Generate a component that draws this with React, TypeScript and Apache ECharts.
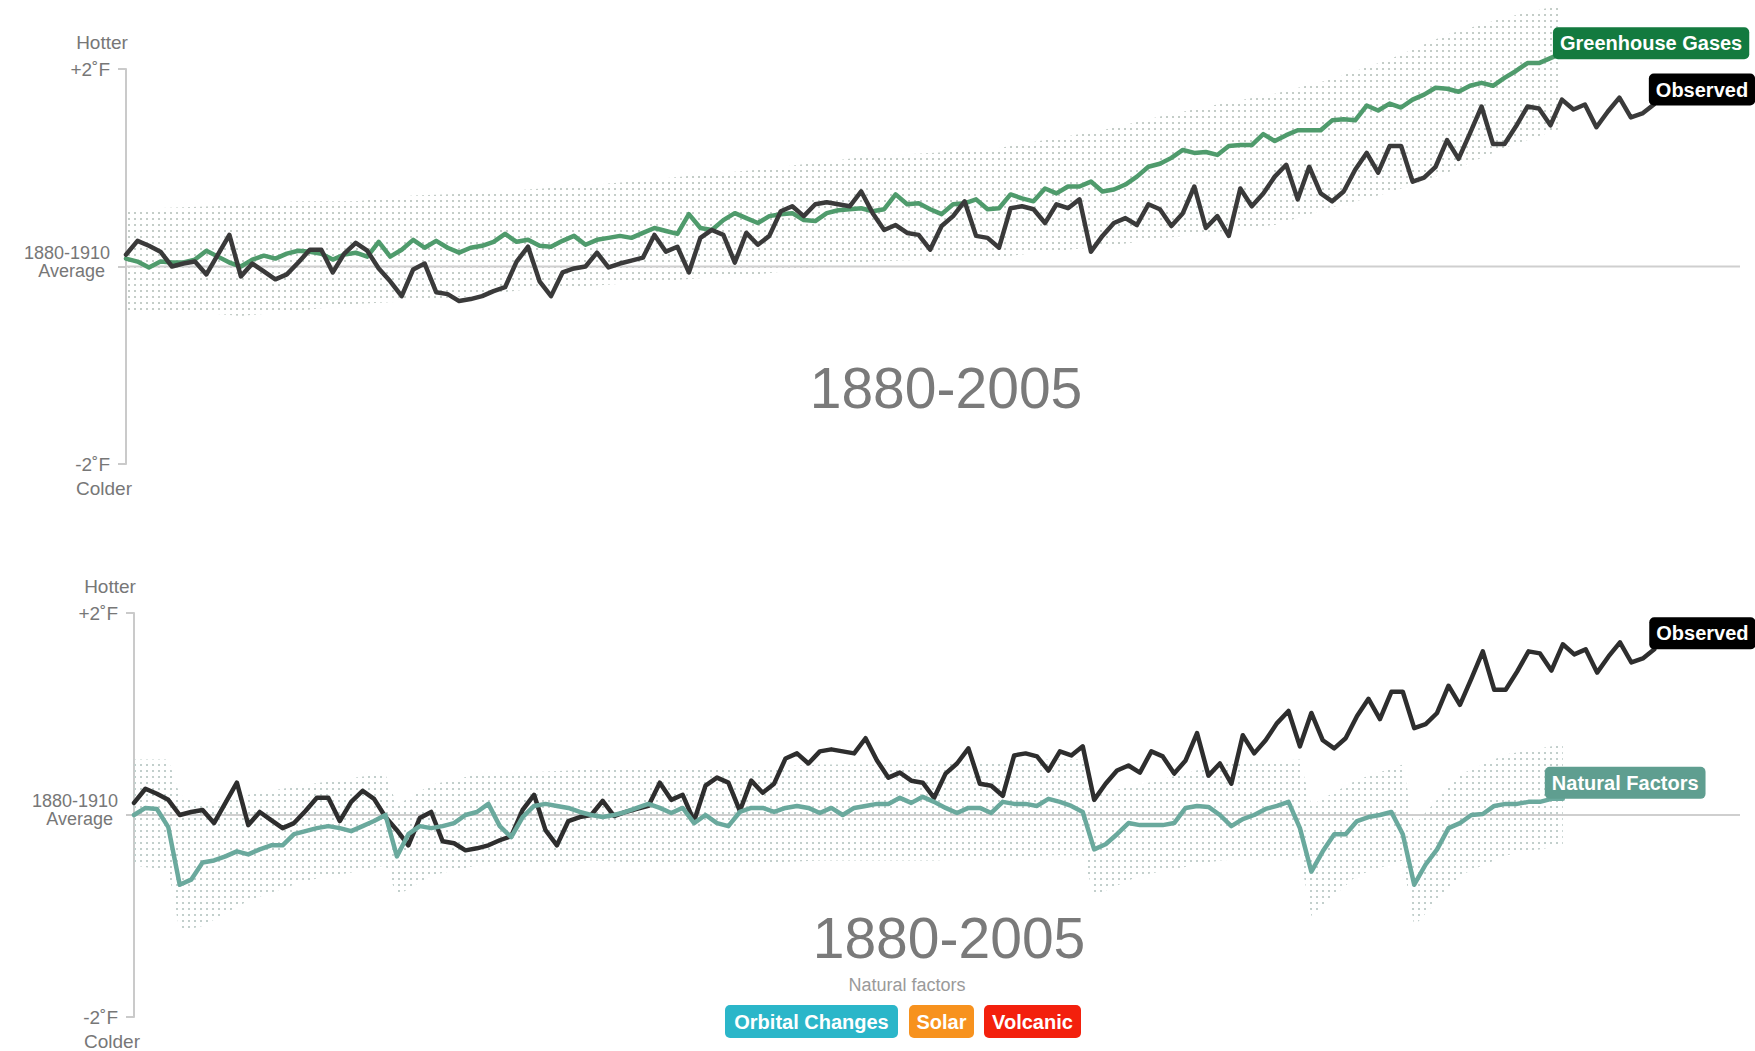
import React, { useEffect, useRef } from "react";
import * as echarts from "echarts";

const START_YEAR = 1880;
const X_MIN = 1880;
const X_MAX = 2020.5;

// Observed temperature, deg F relative to the 1880-1910 average, 1880..2013
const observed = [
  0.12, 0.26, 0.21, 0.15, 0.0, 0.03, 0.05, -0.08, 0.12, 0.32,
  -0.1, 0.03, -0.05, -0.13, -0.08, 0.04, 0.17, 0.17, -0.06, 0.13,
  0.24, 0.16, -0.02, -0.15, -0.3, -0.03, 0.03, -0.26, -0.28, -0.35,
  -0.33, -0.3, -0.25, -0.21, 0.05, 0.2, -0.15, -0.3, -0.06, -0.02,
  0.0, 0.14, -0.01, 0.03, 0.06, 0.09, 0.32, 0.15, 0.2, -0.06,
  0.29, 0.37, 0.32, 0.04, 0.34, 0.22, 0.31, 0.56, 0.61, 0.51,
  0.63, 0.65, 0.63, 0.61, 0.76, 0.54, 0.37, 0.42, 0.34, 0.32,
  0.17, 0.41, 0.51, 0.66, 0.31, 0.29, 0.19, 0.59, 0.61, 0.58,
  0.44, 0.63, 0.59, 0.68, 0.15, 0.31, 0.44, 0.49, 0.42, 0.63,
  0.58, 0.41, 0.54, 0.81, 0.39, 0.51, 0.31, 0.79, 0.61, 0.74,
  0.91, 1.03, 0.68, 1.01, 0.74, 0.66, 0.76, 0.98, 1.15, 0.95,
  1.22, 1.22, 0.86, 0.9, 1.01, 1.28, 1.09, 1.35, 1.62, 1.24,
  1.24, 1.42, 1.62, 1.6, 1.43, 1.69, 1.59, 1.64, 1.41, 1.57,
  1.71, 1.51, 1.55, 1.64,
];

// Greenhouse-gas model, 1880..2005
const greenhouse = [
  0.08, 0.05, -0.01, 0.05, 0.04, 0.04, 0.07, 0.16, 0.1, 0.04,
  0.0, 0.07, 0.11, 0.08, 0.13, 0.16, 0.15, 0.13, 0.07, 0.12,
  0.14, 0.1, 0.25, 0.1, 0.17, 0.27, 0.19, 0.26, 0.19, 0.14,
  0.19, 0.21, 0.25, 0.33, 0.25, 0.27, 0.21, 0.2, 0.26, 0.31,
  0.22, 0.27, 0.29, 0.31, 0.29, 0.34, 0.39, 0.36, 0.33, 0.53,
  0.39, 0.37, 0.47, 0.54, 0.49, 0.44, 0.51, 0.53, 0.54, 0.47,
  0.46, 0.54, 0.57, 0.58, 0.59, 0.56, 0.58, 0.73, 0.63, 0.64,
  0.58, 0.53, 0.63, 0.64, 0.68, 0.58, 0.59, 0.73, 0.69, 0.66,
  0.79, 0.74, 0.81, 0.81, 0.86, 0.76, 0.78, 0.83, 0.91, 1.01,
  1.04, 1.1, 1.18, 1.15, 1.16, 1.13, 1.22, 1.23, 1.23, 1.34,
  1.27, 1.33, 1.38, 1.38, 1.38, 1.48, 1.49, 1.48, 1.63, 1.58,
  1.65, 1.61, 1.69, 1.74, 1.81, 1.8, 1.77, 1.83, 1.86, 1.83,
  1.91, 1.98, 2.06, 2.06, 2.11, 2.16,
];

// Natural-factors model, 1880..2005
const natural = [
  0.0, 0.07, 0.06, -0.12, -0.69, -0.64, -0.47, -0.45, -0.41, -0.36,
  -0.39, -0.34, -0.3, -0.3, -0.19, -0.16, -0.13, -0.11, -0.13, -0.16,
  -0.11, -0.06, 0.0, -0.41, -0.19, -0.11, -0.13, -0.11, -0.08, 0.0,
  0.03, 0.11, -0.11, -0.22, -0.02, 0.09, 0.11, 0.09, 0.07, 0.03,
  0.0, -0.02, 0.0, 0.03, 0.07, 0.11, 0.07, 0.02, 0.07, -0.08,
  0.0, -0.08, -0.11, 0.03, 0.07, 0.07, 0.03, 0.07, 0.09, 0.07,
  0.02, 0.07, 0.0, 0.07, 0.09, 0.11, 0.11, 0.17, 0.12, 0.18,
  0.13, 0.07, 0.02, 0.07, 0.07, 0.02, 0.13, 0.11, 0.11, 0.09,
  0.16, 0.13, 0.09, 0.03, -0.34, -0.29, -0.19, -0.08, -0.1, -0.1,
  -0.1, -0.08, 0.07, 0.09, 0.08, 0.0, -0.11, -0.04, 0.0, 0.06,
  0.09, 0.13, -0.13, -0.56, -0.36, -0.19, -0.19, -0.06, -0.02, 0.0,
  0.03, -0.19, -0.69, -0.49, -0.34, -0.13, -0.08, 0.0, 0.01, 0.09,
  0.11, 0.11, 0.13, 0.13, 0.16, 0.16,
];

// Model spread (dotted band), greenhouse gases
const ghgBandYears = [1880, 1885, 1890, 1895, 1900, 1905, 1910, 1915, 1920, 1925, 1930, 1935, 1940, 1945, 1950, 1955, 1960, 1965, 1970, 1975, 1980, 1985, 1990, 1995, 2000, 2005];
const ghgBandLow = [-0.45, -0.45, -0.5, -0.45, -0.38, -0.35, -0.3, -0.23, -0.2, -0.16, -0.12, -0.08, -0.01, 0.05, 0.07, 0.08, 0.15, 0.2, 0.28, 0.35, 0.42, 0.6, 0.75, 0.95, 1.2, 1.4];
const ghgBandHigh = [0.58, 0.6, 0.62, 0.66, 0.66, 0.72, 0.74, 0.78, 0.82, 0.87, 0.93, 0.98, 1.05, 1.12, 1.15, 1.18, 1.28, 1.38, 1.52, 1.64, 1.75, 1.9, 2.1, 2.35, 2.52, 2.65];

// Model spread (dotted band), natural factors
const natBandYears = [1880, 1883, 1884, 1886, 1890, 1895, 1900, 1902, 1903, 1906, 1910, 1920, 1930, 1940, 1950, 1960, 1963, 1964, 1968, 1975, 1982, 1983, 1987, 1991, 1992, 1996, 2000, 2005];
const natBandLow = [-0.5, -0.55, -1.15, -1.1, -0.85, -0.65, -0.55, -0.5, -0.8, -0.6, -0.5, -0.45, -0.5, -0.45, -0.45, -0.4, -0.4, -0.8, -0.6, -0.45, -0.4, -1.0, -0.6, -0.45, -1.1, -0.6, -0.4, -0.3];
const natBandHigh = [0.55, 0.55, 0.2, 0.1, 0.2, 0.3, 0.38, 0.4, 0.1, 0.3, 0.4, 0.45, 0.45, 0.5, 0.5, 0.55, 0.55, 0.2, 0.3, 0.5, 0.55, 0.1, 0.35, 0.5, -0.1, 0.4, 0.6, 0.7];

const Y_MIN = -2;
const Y_MAX = 2;
const tickLabels: Record<string, string> = {
  "2": "+2˚F",
  "0": "{a|1880-1910}\n{b|Average}\n{e| }",
  "-2": "-2˚F",
};
const periodTitle = "1880-2005";
const naturalCaption = "Natural factors";
const legendNames = ["Orbital Changes", "Solar", "Volcanic"];
const legendColors = ["#2bb6c9", "#f7921e", "#f3200d"];
const legendX = [725, 909, 984];
const legendW = [173, 65, 97];

const FONT = '"Liberation Sans", Arial, Helvetica, sans-serif';

function makeDots(color: string) {
  const c = document.createElement("canvas");
  c.width = 6;
  c.height = 6;
  const ctx = c.getContext("2d")!;
  ctx.fillStyle = color;
  ctx.fillRect(2, 2, 2, 2);
  return c;
}

function endLabel(text: string, bg: string, dx: number, dy: number) {
  return {
    show: true,
    formatter: text,
    color: "#fff",
    fontFamily: FONT,
    fontWeight: "bold",
    fontSize: 20,
    lineHeight: 24,
    padding: [4, 7, 4, 7],
    backgroundColor: bg,
    borderRadius: 5,
    distance: 0,
    offset: [dx, dy],
    align: "left",
    verticalAlign: "middle",
  };
}

function yAxesFor(gridIndex: number) {
  return [
    {
      type: "value",
      gridIndex,
      position: "left",
      min: Y_MIN,
      max: Y_MAX,
      interval: 2,
      name: "Hotter",
      nameLocation: "end",
      nameGap: 17,
      nameTextStyle: { color: "#777", fontSize: 19, fontFamily: FONT, padding: [0, 48, 0, 0] },
      axisLine: { show: true, lineStyle: { color: "#cacaca", width: 2 } },
      axisTick: { show: true, length: 8, lineStyle: { color: "#cacaca", width: 2 } },
      splitLine: { show: false },
      axisLabel: {
        margin: 16,
        color: "#777",
        fontSize: 19,
        fontFamily: FONT,
        lineHeight: 19,
        formatter: (v: number) => tickLabels[String(v)] ?? "",
        rich: {
          a: { color: "#777", fontSize: 18, fontFamily: FONT, lineHeight: 18 },
          b: { color: "#777", fontSize: 18, fontFamily: FONT, lineHeight: 18, padding: [0, 5, 0, 0] },
          e: { fontSize: 8, lineHeight: 10 },
        },
      },
    },
    {
      type: "value",
      gridIndex,
      position: "left",
      min: Y_MIN,
      max: Y_MAX,
      interval: 2,
      name: "Colder",
      nameLocation: "start",
      nameGap: 15,
      nameTextStyle: { color: "#777", fontSize: 19, fontFamily: FONT, padding: [0, 44, 0, 0] },
      axisLine: { show: false },
      axisTick: { show: false },
      axisLabel: { show: false },
      splitLine: { show: false },
    },
  ];
}

function bandSeries(gridIndex: number, years: number[], low: number[], high: number[], pattern: any) {
  return {
    type: "custom",
    xAxisIndex: gridIndex,
    yAxisIndex: gridIndex * 2,
    silent: true,
    z: 1,
    data: [[years[0], low[0]]],
    renderItem: (_params: any, api: any) => {
      const upper = years.map((y, i) => api.coord([y, high[i]]));
      const lower = years.map((y, i) => api.coord([y, low[i]])).reverse();
      return {
        type: "polygon",
        shape: { points: upper.concat(lower) },
        style: { fill: { image: pattern, repeat: "repeat" } },
      };
    },
  };
}

function zeroSeries(gridIndex: number) {
  return {
    type: "line",
    xAxisIndex: gridIndex,
    yAxisIndex: gridIndex * 2,
    data: [
      [X_MIN, 0],
      [X_MAX, 0],
    ],
    symbol: "none",
    silent: true,
    z: 2,
    lineStyle: { color: "#cfcfcf", width: 2 },
  };
}

function lineSeries(gridIndex: number, values: number[], color: string, label: any, z: number) {
  return {
    type: "line",
    xAxisIndex: gridIndex,
    yAxisIndex: gridIndex * 2,
    data: values.map((v, i) => [START_YEAR + i, v]),
    symbol: "none",
    clip: false,
    silent: true,
    z,
    lineStyle: { color, width: 4.5, join: "round", cap: "round" },
    endLabel: label,
    emphasis: { disabled: true },
  };
}

export default function App() {
  const ref = useRef<HTMLDivElement>(null);

  useEffect(() => {
    if (!ref.current) return;
    const chart = echarts.init(ref.current, undefined, { renderer: "svg" });
    const dotsTop = makeDots("#c4cdc8");
    const dotsBottom = makeDots("#c2cfcc");

    const legendGraphics: any[] = [];
    legendNames.forEach((name, i) => {
      legendGraphics.push({
        type: "rect",
        shape: { x: legendX[i], y: 1005, width: legendW[i], height: 33, r: 5 },
        style: { fill: legendColors[i] },
      });
      legendGraphics.push({
        type: "text",
        x: legendX[i] + legendW[i] / 2,
        y: 1022,
        style: {
          text: name,
          fill: "#fff",
          fontSize: 20,
          fontWeight: "bold",
          fontFamily: FONT,
          align: "center",
          verticalAlign: "middle",
        },
      });
    });

    chart.setOption({
      animation: false,
      backgroundColor: "#ffffff",
      grid: [
        { left: 126, right: 15, top: 69, height: 395 },
        { left: 134, right: 15, top: 613, height: 404 },
      ],
      xAxis: [0, 1].map((g) => ({
        type: "value",
        gridIndex: g,
        min: X_MIN,
        max: X_MAX,
        show: false,
        splitLine: { show: false },
      })),
      yAxis: [...yAxesFor(0), ...yAxesFor(1)],
      series: [
        bandSeries(0, ghgBandYears, ghgBandLow, ghgBandHigh, dotsTop),
        zeroSeries(0),
        lineSeries(0, greenhouse, "#4f9b6c", endLabel("Greenhouse Gases", "#137a3f", -9, -10), 3),
        lineSeries(0, observed, "#3a3a3a", endLabel("Observed", "#000000", -5, -15), 4),
        bandSeries(1, natBandYears, natBandLow, natBandHigh, dotsBottom),
        zeroSeries(1),
        lineSeries(1, observed, "#2e2e2e", endLabel("Observed", "#000000", -5, -16), 3),
        lineSeries(1, natural, "#6aa99d", endLabel("Natural Factors", "#5f9e90", -18, -16), 4),
      ],
      graphic: [
        {
          type: "text",
          x: 946,
          y: 388,
          style: { text: periodTitle, fill: "#7a7a7a", fontSize: 57, fontFamily: FONT, align: "center", verticalAlign: "middle" },
        },
        {
          type: "text",
          x: 949,
          y: 938,
          style: { text: periodTitle, fill: "#7a7a7a", fontSize: 57, fontFamily: FONT, align: "center", verticalAlign: "middle" },
        },
        {
          type: "text",
          x: 907,
          y: 985,
          style: { text: naturalCaption, fill: "#9a9a9a", fontSize: 18, fontFamily: FONT, align: "center", verticalAlign: "middle" },
        },
        ...legendGraphics,
      ],
    });
    return () => chart.dispose();
  }, []);

  return (
    <div
      ref={ref}
      style={{ position: "absolute", left: 0, top: 0, width: 1755, height: 1051, background: "#fff" }}
    />
  );
}
